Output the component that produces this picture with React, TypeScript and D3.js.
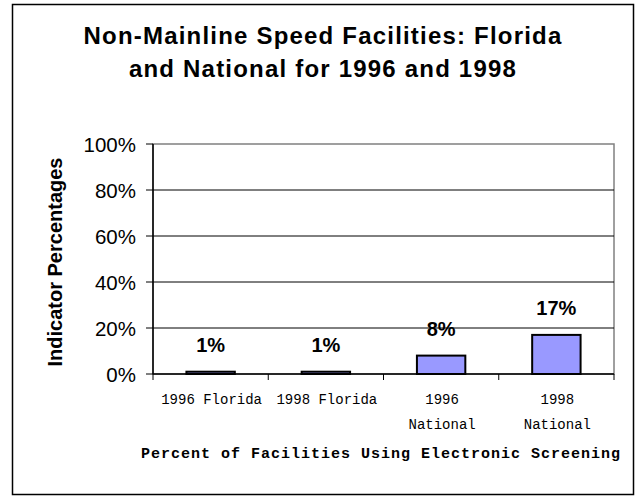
import React from "react";
import * as d3 from "d3";

const categories = ["1996 Florida", "1998 Florida", "1996 National", "1998 National"];
const tickLines = [["1996 Florida"], ["1998 Florida"], ["1996", "National"], ["1998", "National"]];
const values = [1, 1, 8, 17];
const yTicks = [0, 20, 40, 60, 80, 100];
const titleLines = ["Non-Mainline Speed Facilities: Florida", "and National for 1996 and 1998"];
const yTitle = "Indicator Percentages";
const xTitle = "Percent of Facilities Using Electronic Screening";

export default function App() {
  const W = 641, H = 496;
  const left = 153, right = 614, top = 144, bottom = 374;
  const x = d3.scaleBand<string>().domain(categories).range([left, right]).padding(0);
  const y = d3.scaleLinear().domain([0, 100]).range([bottom, top]);
  const bw = x.bandwidth() * 0.42;
  const arial = "'Liberation Sans', Arial, sans-serif";
  const mono = "'Liberation Mono', 'Courier New', monospace";
  const boundaries = [...categories.map((c) => x(c) as number), right];
  return (
    <svg width={W} height={H} style={{ position: "absolute", left: 0, top: 0, background: "#fff" }}>
      <rect x={12.5} y={4.5} width={621} height={490} fill="#fff" stroke="#000" strokeWidth={1.5} />
      {titleLines.map((t, i) => (
        <text key={t} x={323} y={44 + i * 33} textAnchor="middle" fontFamily={arial} fontWeight="bold" fontSize={24} letterSpacing={1.2} fill="#000">
          {t}
        </text>
      ))}
      {/* plot border (gray) */}
      <rect x={left} y={top} width={right - left} height={bottom - top} fill="none" stroke="#808080" strokeWidth={1.5} />
      {yTicks.filter((t) => t > 0 && t < 100).map((t) => (
        <line key={t} x1={left} x2={right} y1={y(t)} y2={y(t)} stroke="#000" strokeWidth={1} />
      ))}
      {yTicks.map((t) => (
        <g key={"yt" + t}>
          <line x1={left - 7} x2={left} y1={y(t)} y2={y(t)} stroke="#000" strokeWidth={1} />
          <text x={136} y={y(t) + 7.5} textAnchor="end" fontFamily={arial} fontSize={20.5} fill="#000">
            {t}%
          </text>
        </g>
      ))}
      {values.map((v, i) => {
        const cx = (x(categories[i]) as number) + x.bandwidth() / 2;
        return (
          <g key={categories[i]}>
            <rect x={cx - bw / 2} y={y(v)} width={bw} height={bottom - y(v)} fill="#9999FF" stroke="#000" strokeWidth={2} />
            <text x={cx} y={y(v) - 19.5} textAnchor="middle" fontFamily={arial} fontWeight="bold" fontSize={20} fill="#000">
              {v}%
            </text>
          </g>
        );
      })}
      <line x1={left} x2={left} y1={top} y2={bottom} stroke="#000" strokeWidth={1.5} />
      <line x1={left} x2={right} y1={bottom} y2={bottom} stroke="#000" strokeWidth={1.5} />
      {boundaries.map((b, i) => (
        <line key={"xt" + i} x1={b} x2={b} y1={bottom} y2={bottom + 6} stroke="#000" strokeWidth={1} />
      ))}
      {tickLines.map((lines, i) => {
        const cx = (x(categories[i]) as number) + x.bandwidth() / 2;
        return lines.map((l, j) => (
          <text key={i + "-" + j} x={cx + 1} y={404 + j * 25} textAnchor="middle" fontFamily={mono} fontSize={14} fill="#000">
            {l}
          </text>
        ));
      })}
      <text x={381} y={458} textAnchor="middle" fontFamily={mono} fontWeight="bold" fontSize={15} letterSpacing={1} fill="#000">
        {xTitle}
      </text>
      <text transform={`translate(62,262) rotate(-90)`} textAnchor="middle" fontFamily={arial} fontWeight="bold" fontSize={20} fill="#000">
        {yTitle}
      </text>
    </svg>
  );
}
